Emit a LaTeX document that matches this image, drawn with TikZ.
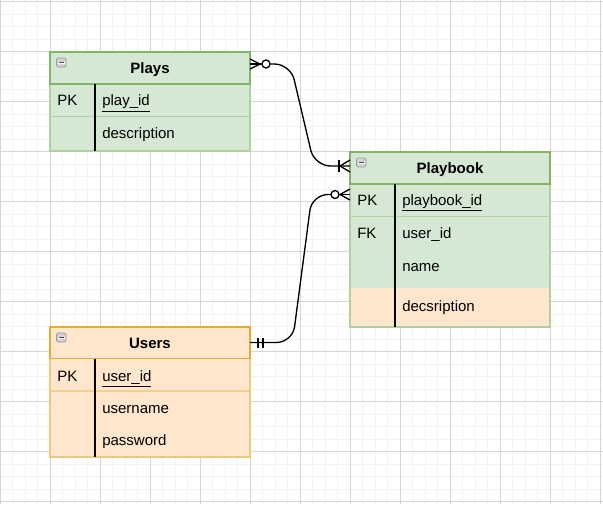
\documentclass[tikz,border=0pt]{standalone}
\usepackage{fontspec}
\setmainfont{Liberation Sans}
\usetikzlibrary{calc}
\definecolor{gfill}{HTML}{D5E8D4}
\definecolor{gstroke}{HTML}{82B366}
\definecolor{ofill}{HTML}{FFE6CC}
\definecolor{ostroke}{HTML}{D79B00}
\definecolor{gridminor}{HTML}{F2F2F2}
\definecolor{gridmajor}{HTML}{D6D6D6}
\tikzset{
  txt/.style={anchor=west, inner sep=0pt, font=\fontsize{11.25}{13}\selectfont, text height=0.72em, text depth=0.21em, yshift=-1.5pt},
  hdr/.style={inner sep=0pt, font=\bfseries\fontsize{11.25}{13}\selectfont, text height=0.72em, text depth=0.21em, yshift=-1.5pt},
  ln/.style={draw=black, line width=1pt},
  conn/.style={ln, rounded corners=12pt},
  keyline/.style={draw=black, line width=1pt},
  ghead/.style={draw=gstroke, fill=gfill, line width=0.8pt},
  gbody/.style={draw=gstroke!45!gfill, line width=0.8pt},
  gsep/.style={draw=gstroke!40!gfill, line width=0.8pt},
  ohead/.style={draw=ostroke!75!ofill, fill=ofill, line width=0.8pt},
  obody/.style={draw=ostroke!40!ofill, line width=0.8pt},
  osep/.style={draw=ostroke!30!ofill, line width=0.8pt},
  minusicon/.pic={
    \draw[draw=gray!80, fill=gray!35, rounded corners=1pt, line width=0.6pt] (0,0) rectangle (9.5,9);
    \fill[white] (1.5,3.5) rectangle (8,5.5);
    \draw[draw=gray!60!black, line width=0.9pt] (2.3,4.5) -- (7.2,4.5);
  }
}
\begin{document}
\begin{tikzpicture}[x=0.75pt,y=-0.75pt]
\useasboundingbox (0,0) rectangle (603,504);
\fill[white] (0,0) rectangle (603,504);
% grid
\foreach \i in {0,...,48} \draw[gridminor, line width=0.5pt] (\i*12.5,0) -- (\i*12.5,504);
\foreach \i in {0,...,40} \draw[gridminor, line width=0.5pt] (0,1.5+\i*12.5) -- (603,1.5+\i*12.5);
\foreach \i in {0,...,12} \draw[gridmajor, line width=0.6pt] (\i*50,0) -- (\i*50,504);
\foreach \i in {0,...,10} \draw[gridmajor, line width=0.6pt] (0,1.5+\i*50) -- (603,1.5+\i*50);

% ---------- Plays ----------
\fill[gfill] (50,84) rectangle (250,151);
\draw[gsep] (50,116.5) -- (250,116.5);
\draw[gbody] (50,84) rectangle (250,151);
\draw[ghead] (50,52) rectangle (250,84);
\draw[keyline] (95,84) -- (95,151);
\pic at (56.5,58) {minusicon};
\node[hdr] (playsT) at (150,68) {Plays};
\node[txt] (playsPK) at (57,100.5) {PK};
\node[txt] (playsId) at (102,100.5) {\underline{play\_id}};
\node[txt] (playsDesc) at (102,133) {description};

% ---------- Playbook ----------
\fill[gfill] (350,184) rectangle (550,288);
\fill[ofill] (350,288) rectangle (550,327);
\draw[gsep] (350,216.5) -- (550,216.5);
\draw[gbody] (350,184) rectangle (550,327);
\draw[ghead] (350,152) rectangle (550,184);
\draw[keyline] (395,184) -- (395,327);
\pic at (356.5,158) {minusicon};
\node[hdr] (pbT) at (450,168) {Playbook};
\node[txt] (pbPK) at (357,200) {PK};
\node[txt] (pbId) at (402,200) {\underline{playbook\_id}};
\node[txt] (pbFK) at (357,233) {FK};
\node[txt] (pbUser) at (402,233) {user\_id};
\node[txt] (pbName) at (402,266) {name};
\node[txt] (pbDesc) at (402,306) {decsription};

% ---------- Users ----------
\fill[ofill] (50,358.5) rectangle (250,457);
\draw[osep] (50,391) -- (250,391);
\draw[obody] (50,358.5) rectangle (250,457);
\draw[ohead] (50,327) rectangle (250,358.5);
\draw[keyline] (95,358.5) -- (95,457);
\pic at (56.5,333) {minusicon};
\node[hdr] (usT) at (150,343) {Users};
\node[txt] (usPK) at (57,376) {PK};
\node[txt] (usId) at (102,376) {\underline{user\_id}};
\node[txt] (usName) at (102,408) {username};
\node[txt] (usPw) at (102,440.5) {password};

% ---------- connector endpoints ----------
\coordinate (pR) at (250,64);
\coordinate (pbA) at (350,166);
\coordinate (pbB) at (350,194.5);
\coordinate (uR) at (250,342.5);

% Plays -> Playbook (zero-or-many at Plays, one-or-many at Playbook)
\draw[conn] ($(pR)+(20,0)$) -- (290.5,64) -- (314.5,166) -- (pbA);
\draw[ln] ($(pR)+(0,-5)$) -- ($(pR)+(10,0)$) -- ($(pR)+(0,5)$);
\draw[ln] (pR) -- ($(pR)+(12,0)$);
\draw[ln, fill=white] ($(pR)+(16,0)$) circle[radius=3pt];
\draw[ln] ($(pbA)+(0,-6)$) -- ($(pbA)+(-10,0)$) -- ($(pbA)+(0,6)$);
\draw[ln] ($(pbA)+(-11,-6)$) -- ($(pbA)+(-11,6)$);

% Users -> Playbook (mandatory one at Users, zero-or-many at Playbook)
\draw[conn] (uR) -- (292.5,342.5) -- (312,194.5) -- ($(pbB)+(-19,0)$);
\draw[ln] ($(uR)+(8,-5)$) -- ($(uR)+(8,5)$);
\draw[ln] ($(uR)+(13,-5)$) -- ($(uR)+(13,5)$);
\draw[ln] ($(pbB)+(0,-5.5)$) -- ($(pbB)+(-10,0)$) -- ($(pbB)+(0,5.5)$);
\draw[ln] (pbB) -- ($(pbB)+(-12,0)$);
\draw[ln, fill=white] ($(pbB)+(-15,0)$) circle[radius=3pt];
\end{tikzpicture}
\end{document}
